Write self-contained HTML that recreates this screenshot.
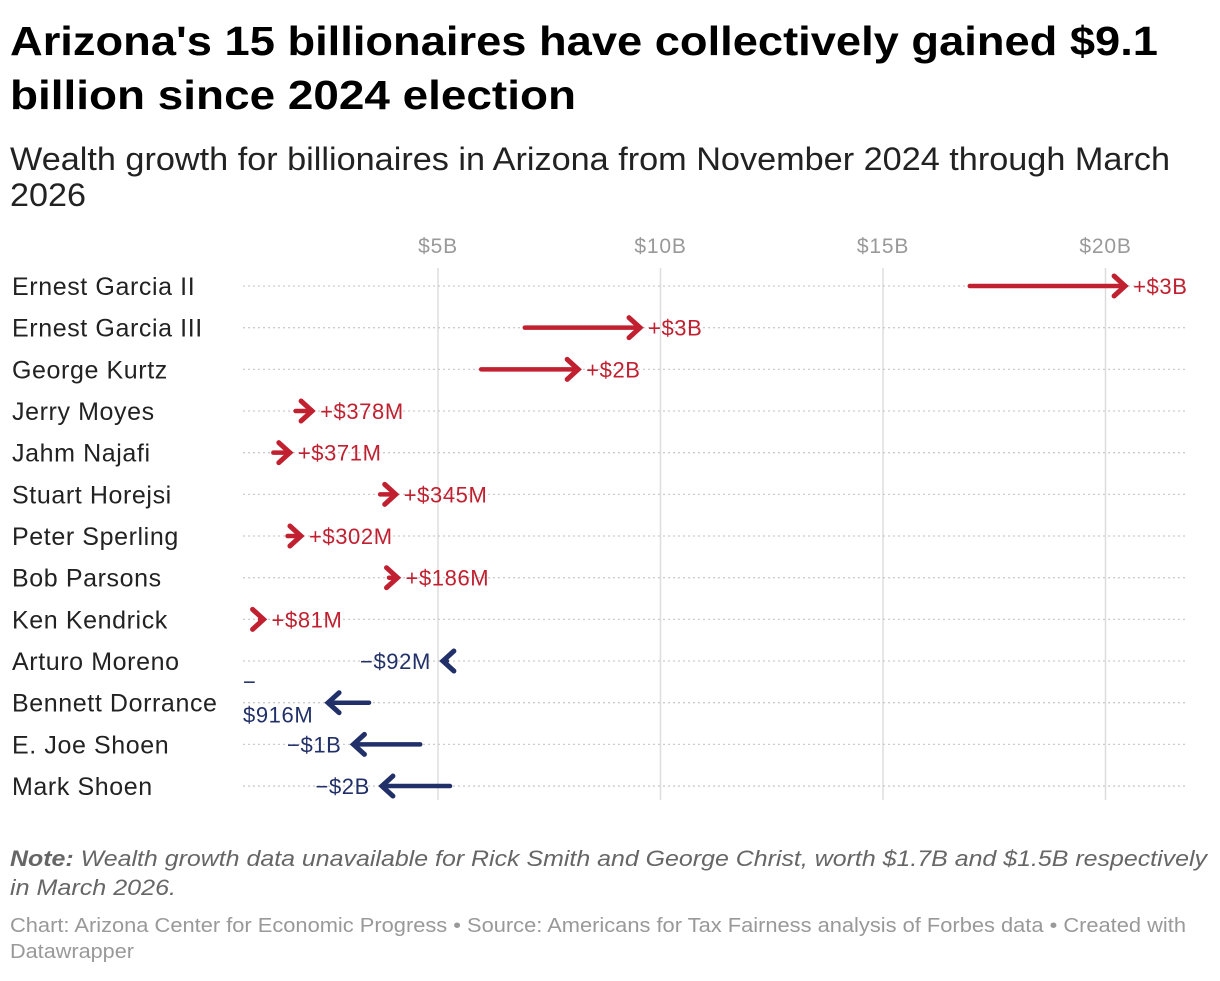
<!DOCTYPE html>
<html><head><meta charset="utf-8"><style>
body{margin:0;background:#fff;width:1220px;height:976px;overflow:hidden;font-family:"Liberation Sans",Arial,sans-serif}
</style></head><body>
<svg width="1220" height="976" xmlns="http://www.w3.org/2000/svg">
<text x="10" y="55" font-size="41" font-weight="bold" fill="#000" textLength="1148" lengthAdjust="spacingAndGlyphs">Arizona's 15 billionaires have collectively gained $9.1</text>
<text x="10" y="109" font-size="41" font-weight="bold" fill="#000" textLength="566" lengthAdjust="spacingAndGlyphs">billion since 2024 election</text>
<text x="10" y="170" font-size="32" fill="#222" textLength="1160" lengthAdjust="spacingAndGlyphs">Wealth growth for billionaires in Arizona from November 2024 through March</text>
<text x="10" y="206" font-size="32" fill="#222" textLength="76" lengthAdjust="spacingAndGlyphs">2026</text>
<g id="plot"></g>
<text x="10" y="866" font-size="22" font-style="italic" fill="#666" textLength="1197" lengthAdjust="spacingAndGlyphs"><tspan font-weight="bold">Note:</tspan> Wealth growth data unavailable for Rick Smith and George Christ, worth $1.7B and $1.5B respectively</text>
<text x="10" y="895" font-size="22" font-style="italic" fill="#666" textLength="166" lengthAdjust="spacingAndGlyphs">in March 2026.</text>
<text x="10" y="932" font-size="20" fill="#999" textLength="1176" lengthAdjust="spacingAndGlyphs">Chart: Arizona Center for Economic Progress • Source: Americans for Tax Fairness analysis of Forbes data • Created with</text>
<text x="10" y="958" font-size="20" fill="#999" textLength="124" lengthAdjust="spacingAndGlyphs">Datawrapper</text>
</svg>
<script>
const names=["Ernest Garcia II","Ernest Garcia III","George Kurtz","Jerry Moyes","Jahm Najafi","Stuart Horejsi","Peter Sperling","Bob Parsons","Ken Kendrick","Arturo Moreno","Bennett Dorrance","E. Joe Shoen","Mark Shoen"];
const startVals=[16.95,6.95,5.97,1.8,1.3,3.7,1.62,3.9,1.0,5.2,3.45,4.6,5.27];
const endVals=[20.44,9.54,8.15,2.17,1.67,4.05,1.92,4.09,1.08,5.11,2.53,3.1,3.74];
const labels=["+$3B","+$3B","+$2B","+$378M","+$371M","+$345M","+$302M","+$186M","+$81M","−$92M","−$916M","−$1B","−$2B"];
const ticks=[5,10,15,20];
const tickLabels=["$5B","$10B","$15B","$20B"];
const NS="http://www.w3.org/2000/svg";
const g=document.getElementById('plot');
const X=v=>215.5+v*44.5;
const Y=i=>286+i*41.67;
function mk(t,a,p){const e=document.createElementNS(NS,t);for(const k in a)e.setAttribute(k,a[k]);(p||g).appendChild(e);return e;}
ticks.forEach((t,i)=>{
 const l=mk('line',{x1:X(t),x2:X(t),y1:268,y2:800,stroke:'#ddd','stroke-width':1.5});
 
 
 const tx=mk('text',{x:X(t),y:253,'font-size':21,fill:'#999','text-anchor':'middle','letter-spacing':'0.8'});tx.textContent=tickLabels[i];
 
 
});
names.forEach((n,i)=>{
 const y=Y(i);
 const gl=mk('line',{x1:243,x2:1186,y1:y,y2:y,stroke:'#ccc','stroke-width':1.3,'stroke-dasharray':'2,3'});
 
 
 const nt=mk('text',{x:12,y:y+9,'font-size':25,fill:'#222','letter-spacing':'0.6'});nt.textContent=n;
 
 
 const up=endVals[i]>=startVals[i];
 const col=up?'#c0202f':'#213068';
 const s=X(startVals[i]),e=X(endVals[i]),d=up?1:-1;
 const ag=mk('g',{});
 
 
 mk('line',{x1:s,x2:e-d*3,y1:y,y2:y,stroke:col,'stroke-width':4.5,'stroke-linecap':'round'},ag);
 mk('polyline',{points:`${e-d*11},${y-10} ${e},${y} ${e-d*11},${y+10}`,fill:'none',stroke:col,'stroke-width':5,'stroke-linecap':'round','stroke-linejoin':'miter'},ag);
 const lab=labels[i];
 if(up){
  const t=mk('text',{x:e+8,y:y+8,'font-size':22,fill:col,'letter-spacing':'0.6'});t.textContent=lab;
  
  
 } else {
  const lx=e-12, w=lab.length*13;
  const t=mk('text',{'font-size':22,fill:col,'letter-spacing':'0.6'});
  
  
  if(lx-w<243){
   t.setAttribute('x',243);t.setAttribute('y',y-13);t.textContent=lab[0];
   const t2=mk('text',{x:243,y:y+20,'font-size':22,fill:col,'letter-spacing':'0.6'});t2.textContent=lab.slice(1);
   
   
  } else {
   t.setAttribute('x',lx);t.setAttribute('y',y+8);t.setAttribute('text-anchor','end');t.textContent=lab;
  }
 }
});
</script>
</body></html>
